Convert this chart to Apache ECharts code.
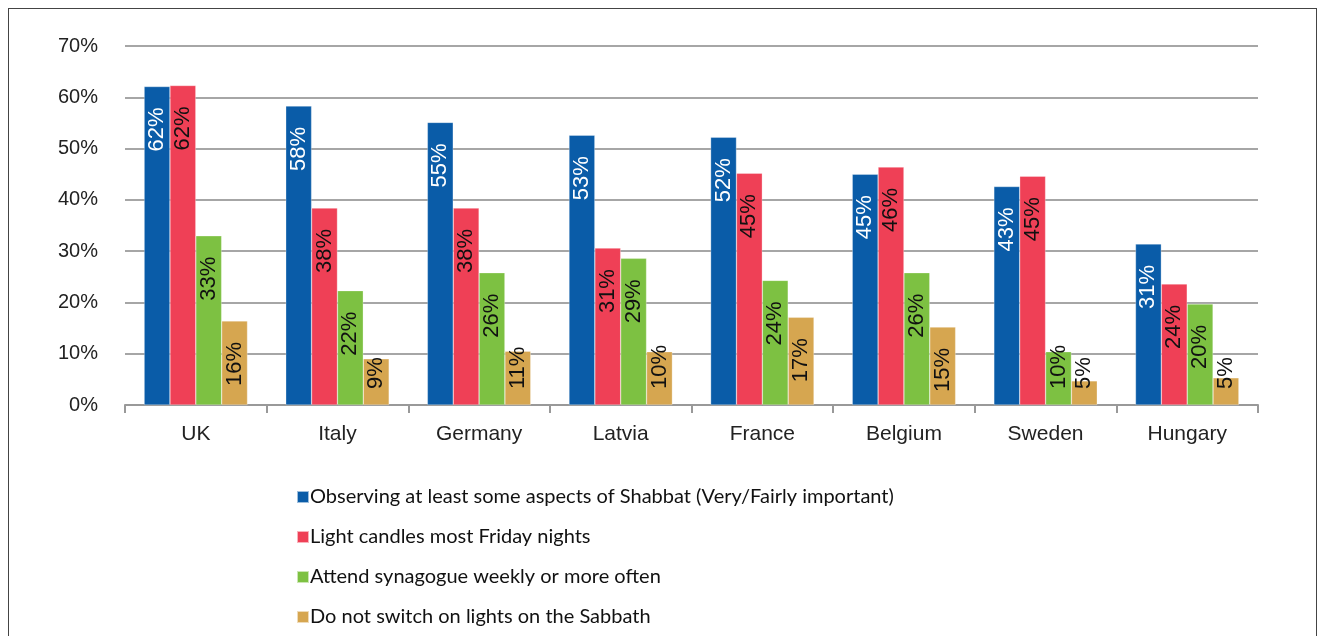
<!DOCTYPE html>
<html>
<head>
<meta charset="utf-8">
<script src="https://cdn.jsdelivr.net/npm/echarts@6/dist/echarts.min.js"></script>
<style>
  html, body { margin: 0; padding: 0; background: #fff; }
  #frame { position: absolute; left: 8px; top: 8px; width: 1309px; height: 640px; border: 1px solid #444; box-sizing: border-box; }
  #myChart { position: absolute; left: 0; top: 0; width: 1317px; height: 636px; }
</style>
</head>
<body>
<div id="frame"></div>
<div id="myChart"></div>
<script>
var countries = ['UK', 'Italy', 'Germany', 'Latvia', 'France', 'Belgium', 'Sweden', 'Hungary'];
var seriesNames = [
  'Observing at least some aspects of Shabbat (Very/Fairly important)',
  'Light candles most Friday nights',
  'Attend synagogue weekly or more often',
  'Do not switch on lights on the Sabbath'
];
var observing = [62.1, 58.3, 55.1, 52.6, 52.2, 45.0, 42.6, 31.4];
var candles = [62.3, 38.4, 38.4, 30.6, 45.2, 46.4, 44.6, 23.6];
var synagogue = [33.0, 22.3, 25.8, 28.6, 24.3, 25.8, 10.4, 19.7];
var lights = [16.4, 9.0, 10.5, 10.4, 17.1, 15.2, 4.7, 5.3];
var yTicks = [0, 10, 20, 30, 40, 50, 60, 70];

var colors = ['#0a5ca8', '#ef4056', '#7dc142', '#d6a650'];
var labelColors = ['#fff', '#111', '#111', '#111'];

var chart = echarts.init(document.getElementById('myChart'));

// short bars: label sits near the base instead of under the top
function makeData(values) {
  return values.map(function (v) {
    if (v < 14) {
      return { value: v, label: { position: 'insideBottom', align: 'left', distance: 16 } };
    }
    return v;
  });
}

var series = [observing, candles, synagogue, lights].map(function (vals, i) {
  return {
    name: seriesNames[i],
    type: 'bar',
    barGap: 0,
    barCategoryGap: '27%',
    data: makeData(vals),
    itemStyle: { color: colors[i], borderColor: 'rgba(255,255,255,0.6)', borderWidth: 0.5 },
    label: {
      show: true,
      rotate: 90,
      position: 'insideTop',
      align: 'right',
      verticalAlign: 'middle',
      distance: 21,
      color: labelColors[i],
      fontSize: 22,
      fontFamily: 'Liberation Sans, Arial, sans-serif',
      formatter: function (p) { return Math.round(p.value) + '%'; }
    }
  };
});

chart.setOption({
  animation: false,
  color: colors,
  grid: { left: 125, right: 59, top: 46, bottom: 231 },
  legend: {
    orient: 'vertical',
    left: 291,
    top: 482,
    itemWidth: 12,
    itemHeight: 12,
    itemGap: 20,
    icon: 'rect',
    data: seriesNames,
    textStyle: { fontSize: 20, color: '#111', fontFamily: 'Lato, sans-serif', padding: [0, 0, 0, -4] }
  },
  xAxis: {
    type: 'category',
    data: countries,
    axisLine: { lineStyle: { color: '#999', width: 2 } },
    axisTick: { show: true, length: 8, lineStyle: { color: '#999', width: 2 } },
    axisLabel: { margin: 19, fontSize: 21, color: '#222', fontFamily: 'Liberation Sans, Arial, sans-serif' }
  },
  yAxis: {
    type: 'value',
    min: yTicks[0],
    max: yTicks[yTicks.length - 1],
    interval: 10,
    axisLine: { show: false },
    axisTick: { show: false },
    splitLine: { lineStyle: { color: '#a6a6a6', width: 2 } },
    axisLabel: { margin: 27, fontSize: 20, color: '#222', fontFamily: 'Liberation Sans, Arial, sans-serif', formatter: '{value}%' }
  },
  series: series
});
</script>
</body>
</html>
